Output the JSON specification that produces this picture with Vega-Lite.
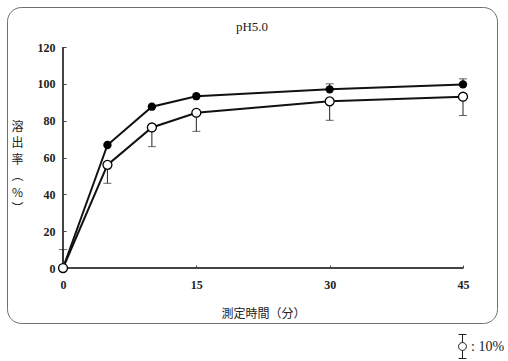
{
  "$schema": "https://vega.github.io/schema/vega-lite/v6.json",
  "width": 490,
  "height": 316,
  "autosize": {"type": "none"},
  "padding": {"left": 7, "top": 7, "right": 11, "bottom": 38},
  "background": "white",
  "config": {
    "view": {"stroke": "#6f6f6f", "strokeWidth": 1, "cornerRadius": 14},
    "axis": {
      "grid": false,
      "domain": false,
      "labelFont": "Liberation Serif",
      "labelFontWeight": "bold",
      "labelFontSize": 12,
      "labelColor": "#222",
      "tickColor": "#444",
      "titleColor": "#222",
      "titleFontWeight": "normal"
    }
  },
  "title": {
    "text": "pH5.0",
    "font": "Liberation Serif",
    "fontSize": 13,
    "fontWeight": "normal",
    "color": "#222",
    "anchor": "middle",
    "baseline": "alphabetic",
    "offset": -37
  },
  "data": {
    "values": [
      {"series": "filled", "t": 0, "pct": 0},
      {"series": "filled", "t": 5, "pct": 66.8},
      {"series": "filled", "t": 10, "pct": 87.6},
      {"series": "filled", "t": 15, "pct": 93.3},
      {"series": "filled", "t": 30, "pct": 97.0, "lo": 97.0, "hi": 100.0},
      {"series": "filled", "t": 45, "pct": 99.7, "lo": 99.7, "hi": 102.7},
      {"series": "open", "t": 0, "pct": 0, "lo": 0, "hi": 10},
      {"series": "open", "t": 5, "pct": 56.0, "lo": 46.0, "hi": 56.0},
      {"series": "open", "t": 10, "pct": 76.3, "lo": 65.9, "hi": 76.3},
      {"series": "open", "t": 15, "pct": 84.3, "lo": 74.2, "hi": 84.3},
      {"series": "open", "t": 30, "pct": 90.5, "lo": 80.2, "hi": 90.5},
      {"series": "open", "t": 45, "pct": 93.0, "lo": 82.8, "hi": 93.0}
    ]
  },
  "encoding": {
    "x": {
      "field": "t",
      "type": "quantitative",
      "scale": {"domain": [-6.3, 48.825], "nice": false, "zero": false},
      "axis": {
        "values": [0, 15, 30, 45],
        "offset": -55,
        "tickSize": -3,
        "labelPadding": 14,
        "title": "測定時間（分）",
        "titleFont": "Noto Sans CJK JP",
        "titleFontSize": 12,
        "titleX": 256,
        "titleY": 45,
        "titleBaseline": "middle",
        "titleAnchor": "start",
        "titleAlign": "center"
      }
    },
    "y": {
      "field": "pct",
      "type": "quantitative",
      "scale": {"domain": [-29.86, 141.72], "nice": false, "zero": false},
      "axis": {
        "values": [0, 20, 40, 60, 80, 100, 120],
        "offset": -56,
        "tickSize": -3,
        "labelPadding": 11,
        "title": ["溶", "出", "率", "︵", "%", "︶"],
        "titleFont": "Noto Sans CJK JP",
        "titleFontSize": 12,
        "titleAngle": 0,
        "titleLineHeight": 16.5,
        "titleAlign": "center",
        "titleBaseline": "top",
        "titleX": -46,
        "titleY": 114
      }
    }
  },
  "layer": [
    {
      "mark": {"type": "rule", "color": "#444", "strokeWidth": 1},
      "encoding": {
        "x": {"datum": 0},
        "x2": {"datum": 45},
        "y": {"datum": 0}
      }
    },
    {
      "mark": {"type": "rule", "color": "#444", "strokeWidth": 1},
      "encoding": {
        "x": {"datum": 0},
        "y": {"datum": 0},
        "y2": {"datum": 120}
      }
    },
    {
      "mark": {"type": "line", "color": "#111", "strokeWidth": 2},
      "encoding": {
        "detail": {"field": "series"}
      }
    },
    {
      "transform": [{"filter": "datum.lo != null"}],
      "mark": {"type": "rule", "color": "#222", "strokeWidth": 1},
      "encoding": {
        "y": {"field": "lo", "type": "quantitative"},
        "y2": {"field": "hi"}
      }
    },
    {
      "transform": [{"filter": "datum.lo != null"}],
      "mark": {"type": "tick", "orient": "horizontal", "color": "#222", "thickness": 1, "size": 8},
      "encoding": {
        "y": {"field": "lo", "type": "quantitative"}
      }
    },
    {
      "transform": [{"filter": "datum.lo != null"}],
      "mark": {"type": "tick", "orient": "horizontal", "color": "#222", "thickness": 1, "size": 8},
      "encoding": {
        "y": {"field": "hi", "type": "quantitative"}
      }
    },
    {
      "transform": [{"filter": "datum.series == 'filled'"}],
      "mark": {"type": "point", "shape": "circle", "filled": true, "size": 70, "color": "#000", "opacity": 1}
    },
    {
      "transform": [{"filter": "datum.series == 'open'"}],
      "mark": {"type": "point", "shape": "circle", "filled": true, "size": 80, "stroke": "#000", "strokeWidth": 1.3, "opacity": 1},
      "encoding": {
        "fill": {
          "datum": ": 10%",
          "scale": {"range": ["white"]},
          "legend": {
            "title": null,
            "orient": "none",
            "legendX": 443,
            "legendY": 327,
            "padding": 0,
            "labelFont": "Liberation Serif",
            "labelFontSize": 14,
            "labelColor": "#222",
            "labelOffset": -4,
            "symbolType": "M-0.33,-1H0.33M0,-1V-0.33M0,0.33V1M-0.33,1H0.33M0.33,0A0.33,0.33 0 1 1 -0.33,0A0.33,0.33 0 1 1 0.33,0",
            "symbolSize": 576,
            "symbolFillColor": "white",
            "symbolStrokeColor": "#222",
            "symbolStrokeWidth": 1
          }
        }
      }
    }
  ]
}
